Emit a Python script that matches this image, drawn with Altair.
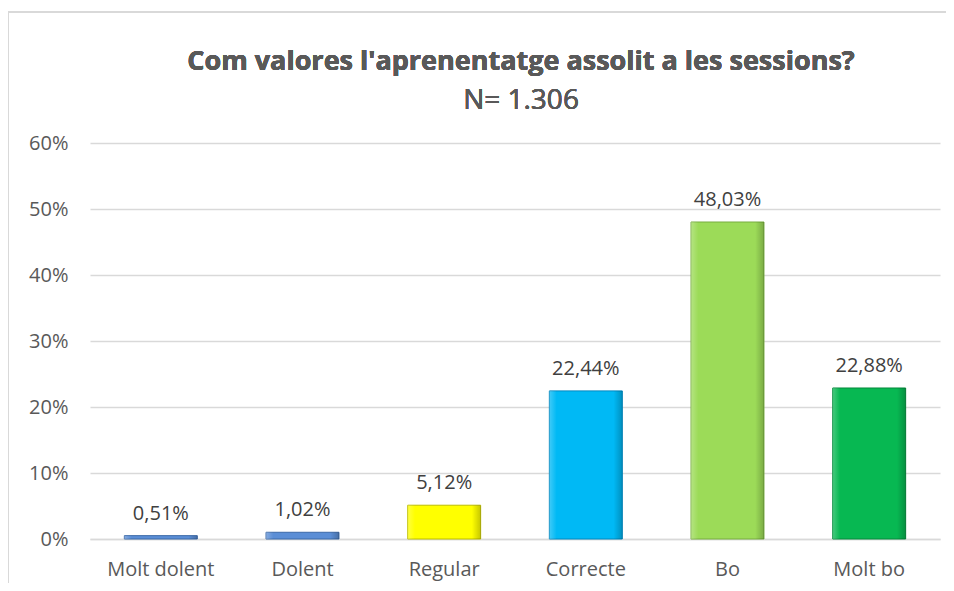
import altair as alt
import pandas as pd

categories = ["Molt dolent", "Dolent", "Regular", "Correcte", "Bo", "Molt bo"]
values = [0.0051, 0.0102, 0.0512, 0.2244, 0.4803, 0.2288]
labels = ["0,51%", "1,02%", "5,12%", "22,44%", "48,03%", "22,88%"]
colors = ["#5b8ed6", "#5b8ed6", "#ffff00", "#00b9f5", "#9cdb58", "#07b852"]
edge_colors = ["#3c6aa8", "#3c6aa8", "#bdbd00", "#0088c0", "#76ad3e", "#048a3c"]
title_text = "Com valores l'aprenentatge assolit a les sessions?"
subtitle_text = "N= 1.306"

df = pd.DataFrame({"cat": categories, "val": values, "label": labels,
                   "color": colors, "edge": edge_colors})

FONT = "Open Sans"
W, H = 850, 396

x = alt.X("cat:N", sort=categories,
          scale=alt.Scale(paddingInner=0.485, paddingOuter=0.2425),
          axis=alt.Axis(title=None, labelAngle=0, labelFontSize=20, labelColor="#595959",
                        labelFont=FONT, domain=True, domainColor="#d9d9d9", domainWidth=1.5,
                        ticks=False, labelPadding=20))
y = alt.Y("val:Q", scale=alt.Scale(domain=[0, 0.6]),
          axis=alt.Axis(title=None, format=".0%", values=[0, .1, .2, .3, .4, .5, .6],
                        labelFontSize=20, labelColor="#595959", labelFont=FONT,
                        domain=False, ticks=False, grid=True, gridColor="#d9d9d9",
                        gridWidth=1.5, labelPadding=22))

base = alt.Chart(df)

bars = base.mark_bar(strokeWidth=1).encode(
    x=x, y=y,
    fill=alt.Color("color:N", scale=None),
    stroke=alt.Color("edge:N", scale=None),
)

shade = base.mark_bar(
    fill=alt.Gradient(gradient="linear", x1=0, y1=0, x2=1, y2=0, stops=[
        alt.GradientStop(offset=0, color="rgba(255,255,255,0.25)"),
        alt.GradientStop(offset=0.1, color="rgba(255,255,255,0.0)"),
        alt.GradientStop(offset=0.88, color="rgba(0,0,0,0.0)"),
        alt.GradientStop(offset=1, color="rgba(0,0,0,0.22)"),
    ])
).encode(x=x, y=y)

text = base.mark_text(dy=-22, fontSize=20, color="#404040", font=FONT).encode(
    x=x, y=y, text="label:N")

border_top = alt.Chart(df).mark_rule(color="#d9d9d9", strokeWidth=2).encode(
    x=alt.value(-82), x2=alt.value(856), y=alt.value(-131))
border_left = alt.Chart(df).mark_rule(color="#d9d9d9", strokeWidth=2).encode(
    x=alt.value(-82), y=alt.value(-131), y2=alt.value(443))

title_mark = alt.Chart(df).mark_text(
    fontSize=27, font=FONT, fontWeight="bold", color="#595959", baseline="alphabetic"
).encode(x=alt.value(431), y=alt.value(-73), text=alt.value(title_text))
subtitle_mark = alt.Chart(df).mark_text(
    fontSize=28, font=FONT, color="#595959", baseline="alphabetic"
).encode(x=alt.value(431), y=alt.value(-34), text=alt.value(subtitle_text))

chart = alt.layer(border_top, border_left, title_mark, subtitle_mark, bars, shade, text).properties(
    width=W, height=H,
    autosize=alt.AutoSizeParams(type="none"),
    padding={"left": 82, "top": 135, "right": 6, "bottom": 44},
).configure(background="white").configure_view(stroke="transparent")

chart.save("out.html", embed_options={"renderer": "svg", "actions": False})
